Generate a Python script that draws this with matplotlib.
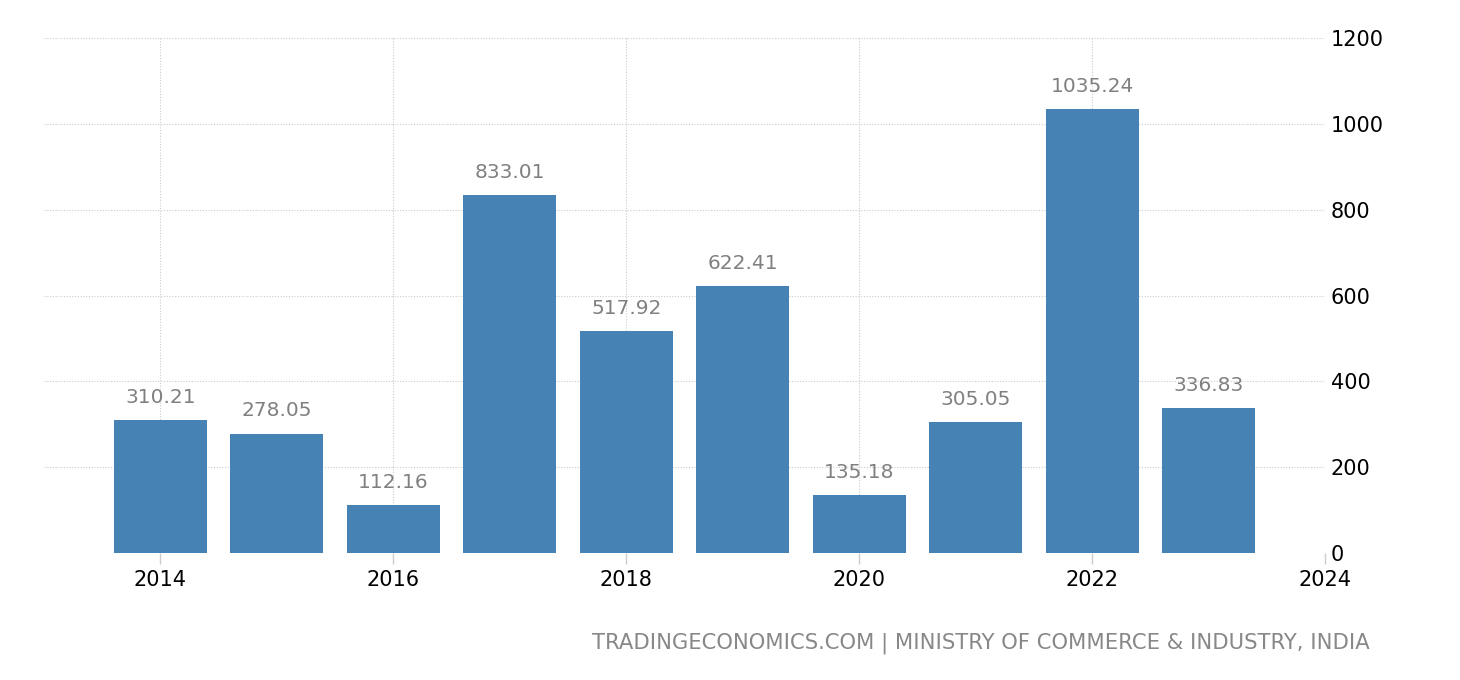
import matplotlib
matplotlib.use("Agg")
import matplotlib.pyplot as plt

years = [2014, 2015, 2016, 2017, 2018, 2019, 2020, 2021, 2022, 2023]
values = [310.21, 278.05, 112.16, 833.01, 517.92, 622.41, 135.18, 305.05, 1035.24, 336.83]
xticks = [2014, 2016, 2018, 2020, 2022, 2024]
yticks = [0, 200, 400, 600, 800, 1000, 1200]
source = "TRADINGECONOMICS.COM | MINISTRY OF COMMERCE & INDUSTRY, INDIA"

plt.rcParams['font.family'] = ['DejaVu Sans']
fig = plt.figure(figsize=(14.6, 6.8), dpi=100)
ax = fig.add_axes([44/1460, 1-553/680, (1325-44)/1460, (553-38)/680])

ax.bar(years, values, width=0.8, color='#4682b4', zorder=3)
for x, v in zip(years, values):
    ax.annotate(f"{v:.2f}", (x, v), xytext=(0, 9.5), textcoords='offset points',
                ha='center', va='bottom', color='#808080', fontsize=14.5)

ax.set_xlim(2013, 2024)
ax.set_ylim(0, 1200)
ax.set_xticks(xticks)
ax.set_xticklabels([str(t) for t in xticks])
ax.set_yticks(yticks)
ax.set_yticklabels([str(t) for t in yticks])
ax.yaxis.tick_right()
ax.tick_params(axis='y', length=0, pad=4, labelsize=15, labelcolor='black')
ax.tick_params(axis='x', length=8, width=1, color='#cccccc', pad=4, labelsize=15, labelcolor='black')
for s in ax.spines.values():
    s.set_visible(False)
ax.grid(True, color='#cccccc', linestyle=(0, (1, 1.5)), linewidth=0.8, zorder=0)
ax.set_axisbelow(True)

fig.text(1370/1460, 1-643/680, source, ha='right', va='center', color='#888888', fontsize=15.2)

fig.savefig("out.png", dpi=100)
